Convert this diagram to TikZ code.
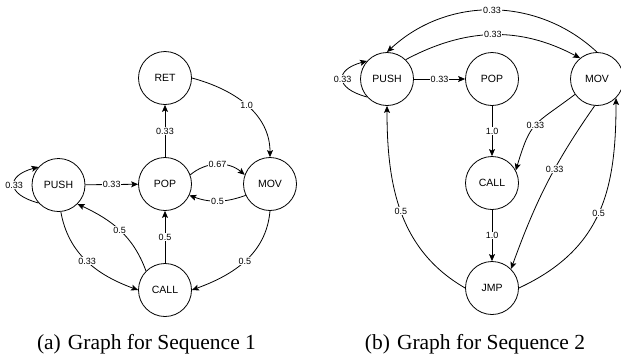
\documentclass[tikz,border=0pt]{standalone}
\usepackage{fontspec}
\setmainfont{Liberation Serif}
\newfontfamily\graphfont{Liberation Sans}
\usetikzlibrary{arrows.meta}

\begin{document}
\begin{tikzpicture}[x=1pt,y=1pt,
        state/.style={draw, circle, line width=0.8pt, minimum size=53pt, inner sep=0pt, font=\graphfont\fontsize{10.5}{12}\selectfont},
        arr/.style={line width=0.8pt, -{Stealth[length=7pt,width=6pt,inset=1.5pt]}},
        prob/.style={fill=white, inner sep=0.8pt, font=\graphfont\fontsize{9}{10}\selectfont},
        captext/.style={anchor=base, font=\fontsize{21.5}{24}\selectfont}]
        \useasboundingbox (0,0) rectangle (621,-354);

        \node[state] (ret1) at (165,-78) {RET};
        \node[state] (push1) at (58.5,-185) {PUSH};
        \node[state] (pop1) at (165,-184) {POP};
        \node[state] (mov1) at (270,-184) {MOV};
        \node[state] (call1) at (165,-290) {CALL};

        \draw[arr] (push1.222) to[out=165,in=195,looseness=2.4] node[prob]{0.33} (push1.138);
        \draw[arr] (push1) -- node[prob]{0.33} (pop1);
        \draw[arr] (pop1) -- node[prob]{0.33} (ret1);
        \draw[arr] (ret1.east) to[out=-15,in=90] node[prob]{1.0} (mov1.north);
        \draw[arr] (pop1.20) to[out=40,in=140] node[prob]{0.67} (mov1.160);
        \draw[arr] (mov1.205) to[out=200,in=-20] node[prob]{0.5} (pop1.-25);
        \draw[arr] (call1) -- node[prob]{0.5} (pop1);
        \draw[arr] (call1.135) to[out=110,in=-25] node[prob]{0.5} (push1.-45);
        \draw[arr] (push1.-85) to[out=-80,in=160] node[prob]{0.33} (call1.west);
        \draw[arr] (mov1.south) to[out=-95,in=20] node[prob]{0.5} (call1.east);

        \node[state] (push2) at (387,-79) {PUSH};
        \node[state] (pop2) at (492,-79) {POP};
        \node[state] (mov2) at (597,-79) {MOV};
        \node[state] (call2) at (492,-183) {CALL};
        \node[state] (jmp2) at (492,-288) {JMP};

        \draw[arr] (push2.222) to[out=165,in=195,looseness=2.4] node[prob]{0.33} (push2.138);
        \draw[arr] (push2) -- node[prob]{0.33} (pop2);
        \draw[arr] (pop2) -- node[prob]{1.0} (call2);
        \draw[arr] (call2) -- node[prob]{1.0} (jmp2);
        \draw[arr] (mov2.north) to[out=137,in=43] node[prob]{0.33} (push2.north);
        \draw[arr] (push2.46) to[out=28,in=152] node[prob]{0.33} (mov2.129);
        \draw[arr] (mov2.215) to[out=217,in=73,looseness=1.4] node[prob]{0.33} (call2.28);
        \draw[arr] (mov2.265) to[out=235,in=70] node[prob,pos=0.4]{0.33} (jmp2.45);
        \draw[arr] (jmp2.east) to[out=25,in=-90,looseness=1.1] node[prob]{0.5} (mov2.-45);
        \draw[arr] (jmp2.west) to[out=150,in=-90] node[prob]{0.5} (push2.south);

        \node[captext] (capa) at (146.5,-349.5) {(a)\hspace{7pt}Graph for Sequence 1};
        \node[captext] (capb) at (475,-349.5) {(b)\hspace{7pt}Graph for Sequence 2};
    \end{tikzpicture}
\end{document}
